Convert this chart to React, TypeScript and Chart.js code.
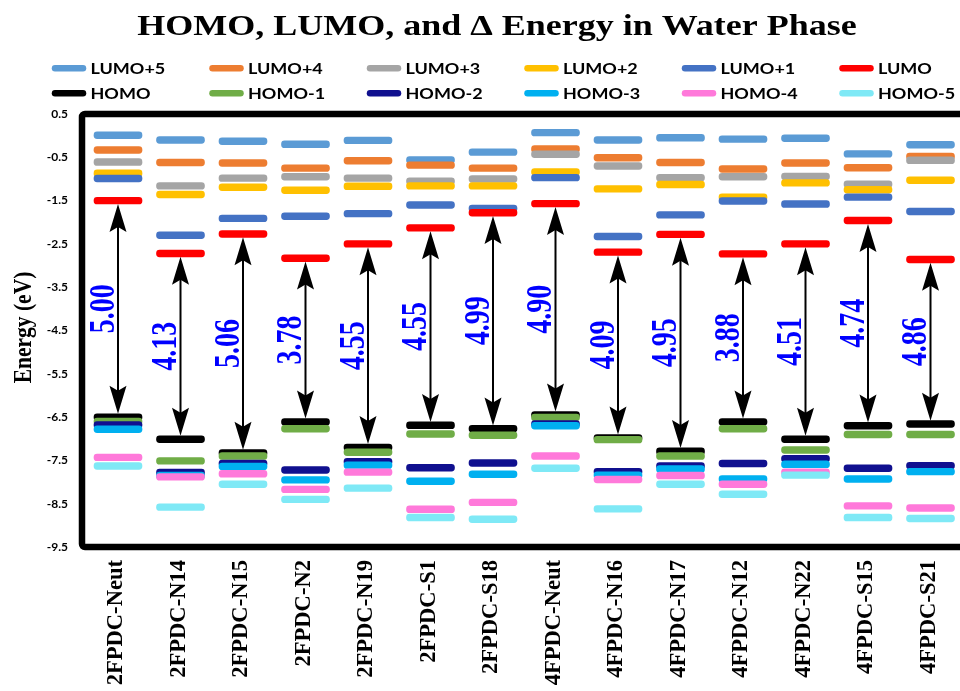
import { useEffect, useRef } from 'react';
import { Chart, registerables } from 'chart.js';

Chart.register(...registerables);

// Molecules along the horizontal axis
const categories = [
  '2FPDC-Neut', '2FPDC-N14', '2FPDC-N15', '2FPDC-N2', '2FPDC-N19', '2FPDC-S1', '2FPDC-S18',
  '4FPDC-Neut', '4FPDC-N16', '4FPDC-N17', '4FPDC-N12', '4FPDC-N22', '4FPDC-S15', '4FPDC-S21',
];

// Orbital energies (eV), one value per molecule
const lumoPlus5 = [0.01, -0.10, -0.13, -0.20, -0.11, -0.56, -0.38, 0.07, -0.10, -0.05, -0.08, -0.06, -0.42, -0.21];
const lumoPlus4 = [-0.33, -0.62, -0.63, -0.75, -0.58, -0.68, -0.75, -0.31, -0.51, -0.62, -0.77, -0.63, -0.74, -0.48];
const lumoPlus3 = [-0.61, -1.16, -0.98, -0.95, -0.98, -1.05, -1.00, -0.43, -0.70, -0.97, -0.95, -0.94, -1.12, -0.57];
const lumoPlus2 = [-0.87, -1.36, -1.19, -1.26, -1.17, -1.16, -1.16, -0.84, -1.23, -1.13, -1.42, -1.09, -1.25, -1.03];
const lumoPlus1 = [-0.99, -2.30, -1.91, -1.86, -1.80, -1.60, -1.68, -0.97, -2.33, -1.83, -1.51, -1.58, -1.42, -1.75];
const lumo = [-1.50, -2.72, -2.27, -2.83, -2.50, -2.13, -1.78, -1.57, -2.69, -2.28, -2.73, -2.50, -1.96, -2.86];
const homo = [-6.50, -7.01, -7.33, -6.61, -7.20, -6.69, -6.77, -6.45, -6.98, -7.29, -6.61, -7.01, -6.70, -6.66];
const homoMinus1 = [-6.60, -7.51, -7.40, -6.77, -7.31, -6.89, -6.92, -6.51, -7.02, -7.40, -6.77, -7.26, -6.90, -6.90];
const homoMinus2 = [-6.68, -7.78, -7.57, -7.72, -7.53, -7.67, -7.56, -6.66, -7.76, -7.63, -7.57, -7.46, -7.68, -7.62];
const homoMinus3 = [-6.78, -7.85, -7.64, -7.95, -7.61, -7.98, -7.82, -6.70, -7.84, -7.70, -7.93, -7.59, -7.93, -7.76];
const homoMinus4 = [-7.43, -7.88, -7.81, -8.17, -7.77, -8.63, -8.47, -7.40, -7.94, -7.85, -8.05, -7.77, -8.55, -8.60];
const homoMinus5 = [-7.63, -8.58, -8.05, -8.40, -8.14, -8.82, -8.86, -7.68, -8.62, -8.05, -8.28, -7.84, -8.82, -8.84];

// Printed HOMO–LUMO gaps
const gapLabels = ['5.00', '4.13', '5.06', '3.78', '4.55', '4.55', '4.99', '4.90', '4.09', '4.95', '3.88', '4.51', '4.74', '4.86'];

// Energy axis ticks
const yTicks = [0.5, -0.5, -1.5, -2.5, -3.5, -4.5, -5.5, -6.5, -7.5, -8.5, -9.5];

const levelNames = ['LUMO+5', 'LUMO+4', 'LUMO+3', 'LUMO+2', 'LUMO+1', 'LUMO', 'HOMO', 'HOMO-1', 'HOMO-2', 'HOMO-3', 'HOMO-4', 'HOMO-5'];
const levelColors = ['#5B9BD5', '#ED7D31', '#A5A5A5', '#FFC000', '#4472C4', '#FF0000', '#000000', '#70AD47', '#10108F', '#00B0F0', '#FF79DA', '#7FE9F6'];
const levelSeries = [lumoPlus5, lumoPlus4, lumoPlus3, lumoPlus2, lumoPlus1, lumo, homo, homoMinus1, homoMinus2, homoMinus3, homoMinus4, homoMinus5];

const BAR_HALF = 0.078; // half thickness of a level bar, in eV
const SERIF = '"Liberation Serif", "Times New Roman", serif';
const SANS = 'Lato, "Open Sans", sans-serif';

const drawHead = (ctx: CanvasRenderingContext2D, x: number, tipY: number, dir: number) => {
  const len = 28;
  const half = 8.5;
  const notch = 5;
  ctx.beginPath();
  ctx.moveTo(x, tipY);
  ctx.lineTo(x + half, tipY + dir * len);
  ctx.lineTo(x, tipY + dir * (len - notch));
  ctx.lineTo(x - half, tipY + dir * len);
  ctx.closePath();
  ctx.fill();
};

const decorPlugin = {
  id: 'energyDecor',
  afterDatasetsDraw(chart: any) {
    const { ctx, scales } = chart;
    const xs = scales.x;
    const ys = scales.y;
    ctx.save();
    categories.forEach((_, i) => {
      const x = xs.getPixelForValue(i);
      const halfPx = ys.getPixelForValue(lumo[i] - BAR_HALF) - ys.getPixelForValue(lumo[i]);
      const yTop = ys.getPixelForValue(lumo[i]) + halfPx;
      const yBot = ys.getPixelForValue(homo[i]) - halfPx;
      ctx.strokeStyle = '#000';
      ctx.fillStyle = '#000';
      ctx.lineWidth = 2;
      ctx.beginPath();
      ctx.moveTo(x, yTop + 20);
      ctx.lineTo(x, yBot - 20);
      ctx.stroke();
      drawHead(ctx, x, yTop, 1);
      drawHead(ctx, x, yBot, -1);

      // gap value, written upward beside the arrow
      ctx.save();
      ctx.translate(x - 4.5, (yTop + yBot) / 2);
      ctx.rotate(-Math.PI / 2);
      ctx.scale(0.8, 1);
      ctx.font = `bold 35px ${SERIF}`;
      ctx.fillStyle = '#0000FF';
      ctx.textAlign = 'center';
      ctx.textBaseline = 'alphabetic';
      ctx.fillText(gapLabels[i], 0, 0);
      ctx.restore();
    });
    ctx.restore();
  },
  afterDraw(chart: any) {
    const { ctx, chartArea, scales } = chart;
    const { left, top, right, bottom } = chartArea;
    ctx.save();

    // heavy plot frame
    ctx.strokeStyle = '#000';
    ctx.lineWidth = 6.5;
    ctx.lineJoin = 'round';
    ctx.beginPath();
    ctx.roundRect(left, top, right - left + 20, bottom - top, 3);
    ctx.stroke();

    // title
    ctx.save();
    ctx.translate(497, 35);
    ctx.scale(1, 0.82);
    ctx.font = `bold 36px ${SERIF}`;
    ctx.fillStyle = '#000';
    ctx.textAlign = 'center';
    ctx.textBaseline = 'alphabetic';
    ctx.fillText('HOMO, LUMO, and \u0394 Energy in Water Phase', 0, 0);
    ctx.restore();

    // legend: two rows of six
    levelNames.forEach((name, k) => {
      const col = k % 6;
      const row = Math.floor(k / 6);
      const x0 = 52 + col * 157.5;
      const y0 = 68.3 + row * 25;
      ctx.strokeStyle = levelColors[k];
      ctx.lineWidth = 6.5;
      ctx.lineCap = 'round';
      ctx.beginPath();
      ctx.moveTo(x0 + 3, y0);
      ctx.lineTo(x0 + 31, y0);
      ctx.stroke();
      ctx.save();
      ctx.translate(x0 + 38.5, y0 + 5.4);
      ctx.scale(1, 0.82);
      ctx.font = `bold 18px ${SANS}`;
      ctx.fillStyle = '#000';
      ctx.textAlign = 'left';
      ctx.textBaseline = 'alphabetic';
      ctx.fillText(name, 0, 0);
      ctx.restore();
    });

    // vertical axis title
    ctx.save();
    ctx.translate(30.5, 327.5);
    ctx.rotate(-Math.PI / 2);
    ctx.scale(0.86, 1);
    ctx.font = `bold 25px ${SERIF}`;
    ctx.fillStyle = '#000';
    ctx.textAlign = 'center';
    ctx.textBaseline = 'alphabetic';
    ctx.fillText('Energy (eV)', 0, 0);
    ctx.restore();

    // molecule names under the frame
    categories.forEach((name, i) => {
      const x = scales.x.getPixelForValue(i) + 4;
      ctx.save();
      ctx.translate(x, bottom + 13);
      ctx.rotate(-Math.PI / 2);
      ctx.scale(0.94, 1);
      ctx.font = `bold 24px ${SERIF}`;
      ctx.fillStyle = '#000';
      ctx.textAlign = 'right';
      ctx.textBaseline = 'alphabetic';
      ctx.fillText(name, 0, 0);
      ctx.restore();
    });

    ctx.restore();
  },
};

export default function App() {
  const canvasRef = useRef<HTMLCanvasElement | null>(null);

  useEffect(() => {
    const canvas = canvasRef.current;
    if (!canvas) return;
    const chart = new Chart(canvas, {
      type: 'bar',
      data: {
        datasets: levelNames.map((name, k) => ({
          label: name,
          data: levelSeries[k].map((e, i) => ({ x: i, y: [e - BAR_HALF, e + BAR_HALF] })),
          backgroundColor: levelColors[k],
          borderWidth: 0,
          borderRadius: 4,
          borderSkipped: false,
          barThickness: 48,
          grouped: false,
          order: levelNames.length - k,
        })),
      },
      options: {
        responsive: false,
        animation: false,
        devicePixelRatio: 1,
        layout: { padding: { top: 114, bottom: 144, left: 0, right: 0 }, autoPadding: false },
        plugins: {
          legend: { display: false },
          title: { display: false },
          tooltip: { enabled: false },
        },
        scales: {
          x: {
            type: 'linear',
            min: -0.576,
            max: 13.472,
            offset: false,
            bounds: 'ticks',
            display: false,
          },
          y: {
            type: 'linear',
            min: -9.5,
            max: 0.5,
            afterBuildTicks: (s: any) => {
              s.ticks = yTicks.map((value) => ({ value }));
            },
            afterFit: (s: any) => {
              s.width = 82;
            },
            grid: { display: false, drawTicks: false },
            border: { display: false },
            ticks: {
              padding: 14,
              color: '#000',
              autoSkip: false,
              font: { family: SANS, weight: 'bold', size: 12 },
              callback: (v: any) => Number(v).toFixed(1),
            },
          },
        },
      } as any,
      plugins: [decorPlugin],
    });
    return () => chart.destroy();
  }, []);

  return (
    <div style={{ position: 'absolute', left: 0, top: 0, width: 960, height: 691, background: '#fff' }}>
      <canvas ref={canvasRef} width={960} height={691} style={{ display: 'block', width: 960, height: 691 }} />
    </div>
  );
}
